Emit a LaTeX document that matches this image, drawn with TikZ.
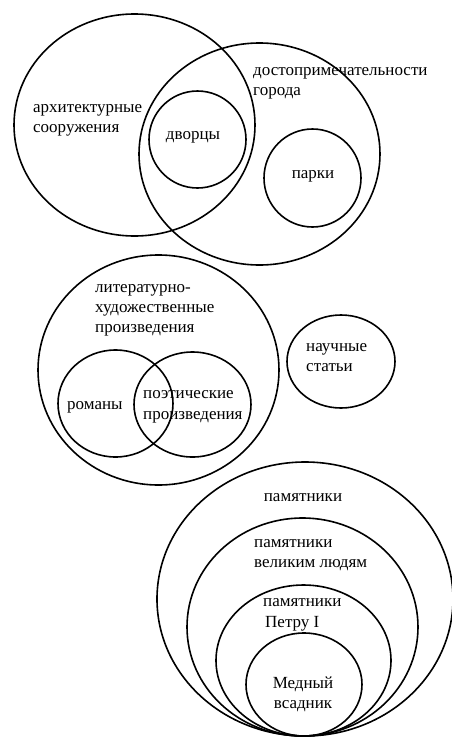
\documentclass[tikz,border=0pt]{standalone}
\usepackage{fontspec}
\setmainfont{Liberation Serif}
\usetikzlibrary{shapes.geometric}
\begin{document}
\begin{tikzpicture}[x=1pt,y=-1pt,
  set/.style={draw,ellipse,line width=1.6pt,inner sep=0pt},
  lbl/.style={anchor=base west,inner sep=0pt,font=\fontsize{17}{20}\selectfont},
  lblc/.style={anchor=base,inner sep=0pt,font=\fontsize{17}{20}\selectfont}]
\useasboundingbox (0,0) rectangle (451,737);
\fill[white] (0,0) rectangle (451,737);
% group 1
\node[set,minimum width=241pt,minimum height=222pt] (arch) at (134.5,125) {};
\node[set,minimum width=241pt,minimum height=222pt] (dost) at (259.5,154) {};
\node[set,minimum width=97pt,minimum height=97pt] (dvor) at (197.5,139.5) {};
\node[set,minimum width=97pt,minimum height=98pt] (park) at (312.5,178) {};
\node[lbl] (t1a) at (33,112) {архитектурные};
\node[lbl] (t1b) at (33,132) {сооружения};
\node[lbl] (t2a) at (253,75) {достопримечательности};
\node[lbl] (t2b) at (253,95) {города};
\node[lblc] (t3) at (193,139) {дворцы};
\node[lblc] (t4) at (313,178) {парки};
% group 2
\node[set,minimum width=241pt,minimum height=230pt] (lit) at (158.5,370) {};
\node[set,minimum width=115pt,minimum height=107pt] (rom) at (115.5,403.5) {};
\node[set,minimum width=117pt,minimum height=105pt] (poe) at (192.5,404.5) {};
\node[set,minimum width=108pt,minimum height=93pt] (nau) at (341,361.5) {};
\node[lbl] (t5a) at (95,292) {литературно-};
\node[lbl] (t5b) at (95,312) {художественные};
\node[lbl] (t5c) at (95,332) {произведения};
\node[lbl] (t6a) at (306,351) {научные};
\node[lbl] (t6b) at (306,371) {статьи};
\node[lbl] (t7) at (67,409) {романы};
\node[lbl] (t8a) at (143,398) {поэтические};
\node[lbl] (t8b) at (143,419) {произведения};
% group 3
\node[set,minimum width=296pt,minimum height=274pt] (pam) at (305,599) {};
\node[set,minimum width=231pt,minimum height=218pt] (vel) at (302.5,627) {};
\node[set,minimum width=175pt,minimum height=151pt] (pet) at (303.5,660.5) {};
\node[set,minimum width=116pt,minimum height=103pt] (med) at (304,684.5) {};
\node[lblc] (t9) at (303,501) {памятники};
\node[lbl] (t10a) at (254,547) {памятники};
\node[lbl] (t10b) at (254,567) {великим людям};
\node[lbl] (t11a) at (263,606) {памятники};
\node[lbl] (t11b) at (265,627) {Петру I};
\node[lblc] (t12a) at (303,688) {Медный};
\node[lblc] (t12b) at (303,708) {всадник};
\end{tikzpicture}
\end{document}
